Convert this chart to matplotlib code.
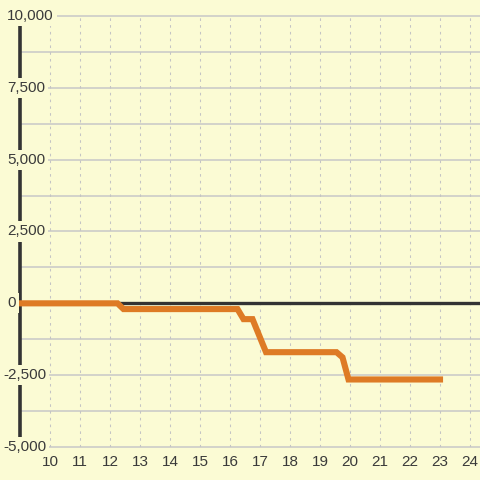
import matplotlib.pyplot as plt
from matplotlib.transforms import blended_transform_factory

bg = '#fbfbd4'
dark = '#333333'
orange = '#de7b25'

# data
days = [9, 12.25, 12.45, 16.25, 16.45, 16.75, 17.2, 19.55, 19.75, 19.95, 23]
balance = [0, 0, -200, -200, -550, -550, -1700, -1700, -1880, -2650, -2650]

x_ticks = [10, 11, 12, 13, 14, 15, 16, 17, 18, 19, 20, 21, 22, 23, 24]
y_grid = [-5000, -3750, -2500, -1250, 0, 1250, 2500, 3750, 5000, 6250, 7500, 8750, 10000]
y_ticks = [-5000, -2500, 0, 2500, 5000, 7500, 10000]
y_labels = ['-5,000', '-2,500', '0', '2,500', '5,000', '7,500', '10,000']

plt.rcParams['font.family'] = ['Liberation Sans', 'DejaVu Sans']

fig = plt.figure(figsize=(4.8, 4.8), dpi=100, facecolor=bg)
ax = fig.add_axes([20 / 480, 33 / 480, 460 / 480, 431 / 480], facecolor=bg)
ax.set_xlim(9, 24.333)
ax.set_ylim(-5000, 10000)
for s in ax.spines.values():
    s.set_visible(False)

for y in y_grid:
    ax.axhline(y, color='#c8c8c8', lw=1.1, zorder=1, clip_on=False)
for x in x_ticks:
    ax.axvline(x, color='#c4c4c4', lw=0.75, ls=(0, (2.5, 4)), zorder=1)

ax.axhline(0, color=dark, lw=2.4, zorder=2)
ax.axvline(9, color=dark, lw=2.6, zorder=2, clip_on=False)

ax.plot(days, balance, color=orange, lw=4.4, solid_joinstyle='miter',
        solid_capstyle='projecting', zorder=3, clip_on=False)

ax.set_xticks(x_ticks)
ax.set_xticklabels([str(x) for x in x_ticks], fontsize=11, color='#3a3a3a')
ax.set_yticks([])
ax.tick_params(axis='x', length=0, pad=5.5)

tr = blended_transform_factory(fig.transFigure, ax.transData)
for y, lab in zip(y_ticks, y_labels):
    xpos = 3 / 480 if lab.startswith('-') else 7 / 480
    ax.text(xpos, y, lab, transform=tr, ha='left', va='center', fontsize=11,
            color='#3a3a3a', zorder=4, clip_on=False,
            bbox=dict(boxstyle='square,pad=0.2', fc=bg, ec='none'))

plt.savefig('out.png', dpi=100, facecolor=bg)
